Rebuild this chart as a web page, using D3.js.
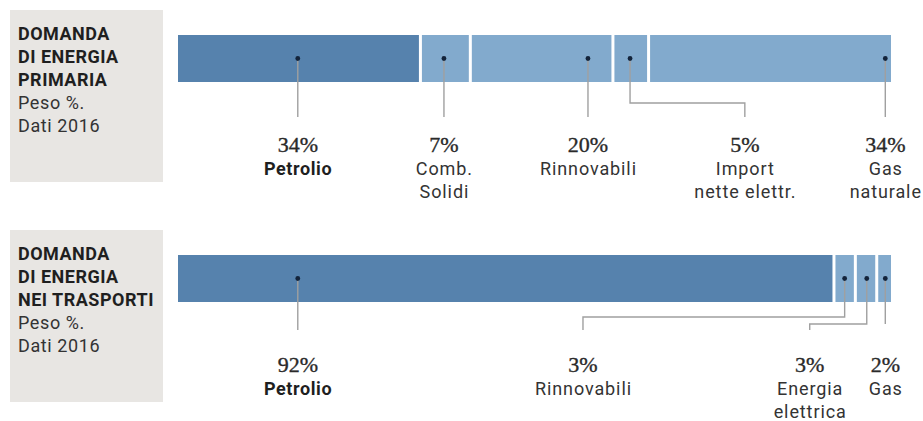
<!DOCTYPE html>
<html>
<head>
<meta charset="utf-8">
<script src="https://cdn.jsdelivr.net/npm/d3@7"></script>
<style>
  html, body { margin: 0; padding: 0; background: #ffffff; }
  svg { display: block; }
</style>
</head>
<body>
<svg id="chart" width="923" height="421"></svg>
<script>
// ---- Data ----
const panelTitles = [
  ["DOMANDA", "DI ENERGIA", "PRIMARIA"],
  ["DOMANDA", "DI ENERGIA", "NEI TRASPORTI"]
];
const panelSubtitles = ["Peso %.", "Dati 2016"];

const primaryCategories = [["Petrolio"], ["Comb.", "Solidi"], ["Rinnovabili"], ["Import", "nette elettr."], ["Gas", "naturale"]];
const primaryValues = [34, 7, 20, 5, 34];
const primaryLabels = ["34%", "7%", "20%", "5%", "34%"];

const transportCategories = [["Petrolio"], ["Rinnovabili"], ["Energia", "elettrica"], ["Gas"]];
const transportValues = [92, 3, 3, 2];
const transportLabels = ["92%", "3%", "3%", "2%"];

// Leader anchor positions, in the 0-100 % domain of the bar scale
const primaryDotAt = [16.8, 37.3, 57.5, 63.4, 99.2];
const primaryLabelAt = [16.8, 37.3, 57.5, 79.5, 99.2];
const transportDotAt = [16.8, 93.5, 96.6, 99.2];
const transportLabelAt = [16.8, 56.8, 88.6, 99.2];

// ---- Layout ----
const svg = d3.select("#chart");
const x = d3.scaleLinear().domain([0, 100]).range([178, 891]);
const darkBlue = "#5682ad", lightBlue = "#82aacd";
const sans = "Roboto, 'Noto Sans', sans-serif";
const serif = "'Liberation Serif', 'DejaVu Serif', serif";

const panels = [
  { top: 10, title: panelTitles[0], cats: primaryCategories, vals: primaryValues, labs: primaryLabels,
    dotAt: primaryDotAt, labelAt: primaryLabelAt, elbowY: [null, null, null, 93, null], endY: 107 },
  { top: 230, title: panelTitles[1], cats: transportCategories, vals: transportValues, labs: transportLabels,
    dotAt: transportDotAt, labelAt: transportLabelAt, elbowY: [null, 87, 94, null], endY: [100, 100, 100, 94] }
];

panels.forEach(p => {
  const g = svg.append("g").attr("transform", `translate(0,${p.top})`);

  // title box
  g.append("rect").attr("x", 10).attr("y", 0).attr("width", 153).attr("height", 172).attr("fill", "#e8e6e3");
  const lines = p.title.map(t => ({ t, bold: true })).concat(panelSubtitles.map(t => ({ t, bold: false })));
  g.selectAll("text.title").data(lines).join("text")
    .attr("class", "title")
    .attr("x", 18).attr("y", (d, i) => 30 + i * 23)
    .attr("font-family", sans).attr("font-size", 18)
    .attr("font-weight", d => d.bold ? 700 : 400)
    .attr("letter-spacing", d => d.bold ? 0.5 : 0.6)
    .attr("fill", d => d.bold ? "#1f1f1f" : "#333")
    .text(d => d.t);

  // segments
  let cum = 0;
  const segs = p.vals.map((v, i) => { const s = { start: cum, end: cum + v, i }; cum += v; return s; });
  const n = segs.length;
  g.selectAll("rect.seg").data(segs).join("rect")
    .attr("class", "seg")
    .attr("x", d => x(d.start) + (d.i > 0 ? 1.5 : 0))
    .attr("y", 25)
    .attr("width", d => x(d.end) - x(d.start) - (d.i > 0 ? 1.5 : 0) - (d.i < n - 1 ? 1.5 : 0))
    .attr("height", 47)
    .attr("fill", d => d.i === 0 ? darkBlue : lightBlue);

  // leader lines
  const dotY = 48.5;
  g.selectAll("path.leader").data(segs).join("path")
    .attr("class", "leader")
    .attr("fill", "none").attr("stroke", "#a0a0a0").attr("stroke-width", 1.4)
    .attr("d", d => {
      const i = d.i;
      const ey = Array.isArray(p.endY) ? p.endY[i] : p.endY;
      const x0 = x(p.dotAt[i]), x1 = x(p.labelAt[i]);
      const path = d3.path();
      path.moveTo(x0, dotY);
      if (p.elbowY[i] != null) {
        path.lineTo(x0, p.elbowY[i]);
        path.lineTo(x1, p.elbowY[i]);
      }
      path.lineTo(x1, ey);
      return path.toString();
    });

  // dots
  g.selectAll("circle.dot").data(segs).join("circle")
    .attr("class", "dot")
    .attr("cx", d => x(p.dotAt[d.i])).attr("cy", dotY).attr("r", 2.4)
    .attr("fill", "#13233a");

  // labels
  const lab = g.selectAll("g.lab").data(segs).join("g").attr("class", "lab")
    .attr("transform", d => `translate(${x(p.labelAt[d.i])},0)`);
  lab.append("text")
    .attr("y", 142).attr("text-anchor", "middle")
    .attr("font-family", serif).attr("font-size", 22)
    .attr("fill", "#2a2a2a").attr("stroke", "#2a2a2a").attr("stroke-width", 0.35)
    .text(d => p.labs[d.i]);
  lab.each(function (d) {
    const bold = d.i === 0;
    const ls = bold ? 0.6 : 0.9;
    d3.select(this).selectAll("text.name").data(p.cats[d.i]).join("text")
      .attr("class", "name")
      .attr("x", ls / 2)
      .attr("y", (t, j) => 165 + j * 22.5)
      .attr("text-anchor", "middle")
      .attr("font-family", sans).attr("font-size", 18)
      .attr("font-weight", bold ? 700 : 400)
      .attr("letter-spacing", ls)
      .attr("fill", bold ? "#1f1f1f" : "#333")
      .text(t => t);
  });
});
</script>
</body>
</html>
